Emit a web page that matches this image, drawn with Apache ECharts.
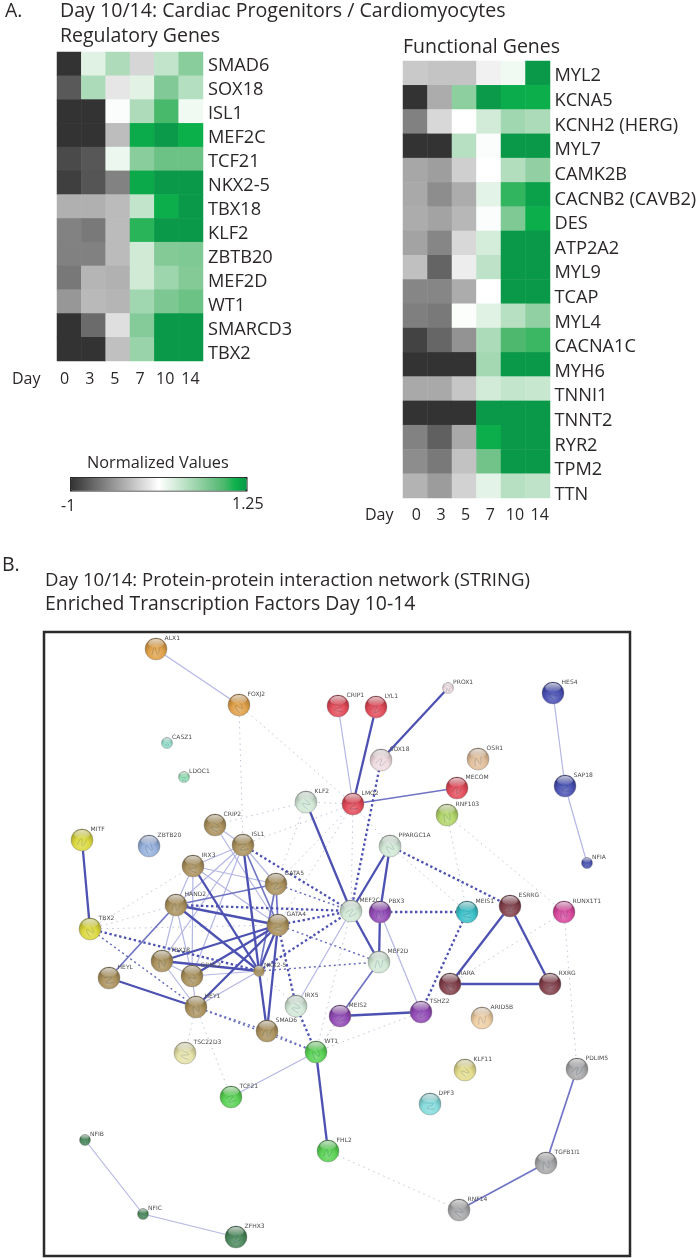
<!DOCTYPE html>
<html lang="en" style="height: 100%">
<head>
    <meta charset="utf-8">
    <title>Day 10/14 Cardiac Progenitors / Cardiomyocytes</title>
    <script src="https://cdn.jsdelivr.net/npm/echarts@6/dist/echarts.min.js"></script>
</head>
<body style="height: 100%; margin: 0; background: #fff">
<div id="main" style="width: 697px; height: 1258px"></div>
<script type="text/javascript">
    // heatmap data
    const days = ['0', '3', '5', '7', '10', '14'];
    const regulatoryGenes = ['SMAD6', 'SOX18', 'ISL1', 'MEF2C', 'TCF21', 'NKX2-5', 'TBX18', 'KLF2', 'ZBTB20', 'MEF2D', 'WT1', 'SMARCD3', 'TBX2'];
    const regulatoryValues = [
        [-1, 0.28, 0.52, -0.1, 0.43, 0.69],
        [-0.79, 0.53, -0.01, 0.27, 0.73, 0.49],
        [-1, -1, 0.15, 0.52, 0.97, 0.2],
        [-1, -1, -0.24, 1.14, 1.24, 1.11],
        [-0.87, -0.8, 0.22, 0.69, 0.83, 0.83],
        [-0.93, -0.81, -0.56, 1.15, 1.25, 1.25],
        [-0.31, -0.31, -0.25, 0.43, 1.12, 1.25],
        [-0.56, -0.61, -0.25, 1.04, 1.25, 1.25],
        [-0.57, -0.57, -0.25, 0.36, 0.72, 0.74],
        [-0.62, -0.28, -0.3, 0.36, 0.6, 0.72],
        [-0.45, -0.26, -0.28, 0.58, 0.75, 0.83],
        [-1, -0.69, -0.05, 0.71, 1.25, 1.25],
        [-1, -1, -0.22, 0.62, 1.25, 1.25]
    ];
    const functionalGenes = ['MYL2', 'KCNA5', 'KCNH2 (HERG)', 'MYL7', 'CAMK2B', 'CACNB2 (CAVB2)', 'DES', 'ATP2A2', 'MYL9', 'TCAP', 'MYL4', 'CACNA1C', 'MYH6', 'TNNI1', 'TNNT2', 'RYR2', 'TPM2', 'TTN'];
    const functionalValues = [
        [-0.17, -0.2, -0.2, 0.05, 0.2, 1.25],
        [-1, -0.33, 0.67, 1.24, 1.13, 1.12],
        [-0.57, -0.09, 0.13, 0.35, 0.58, 0.53],
        [-1, -1, 0.48, 0.15, 1.25, 1.25],
        [-0.36, -0.41, -0.14, 0.13, 0.5, 0.65],
        [-0.35, -0.5, -0.33, 0.26, 1.02, 1.2],
        [-0.33, -0.38, -0.27, 0.15, 0.74, 1.12],
        [-0.38, -0.54, -0.09, 0.34, 1.25, 1.25],
        [-0.22, -0.73, 0.03, 0.45, 1.25, 1.25],
        [-0.54, -0.54, -0.33, 0.13, 1.25, 1.25],
        [-0.58, -0.61, 0.14, 0.28, 0.48, 0.66],
        [-0.91, -0.72, -0.47, 0.53, 0.95, 1.0],
        [-1, -1, -1, 0.57, 1.25, 1.25],
        [-0.35, -0.35, -0.19, 0.35, 0.42, 0.4],
        [-1, -1, -1, 1.25, 1.25, 1.25],
        [-0.56, -0.75, -0.35, 1.12, 1.25, 1.25],
        [-0.5, -0.61, -0.21, 0.8, 1.25, 1.25],
        [-0.29, -0.42, -0.12, 0.26, 0.48, 0.44]
    ];

    // network layout in the STRING picture's own units
    const nodeNames = ['ALX1', 'FOXJ2', 'CRIP1', 'LYL1', 'PROX1', 'CASZ1', 'LDOC1', 'SOX18', 'OSR1', 'KLF2', 'LMO2', 'MECOM', 'RNF103', 'CRIP2', 'ISL1', 'MITF', 'ZBTB20', 'IRX3', 'GATA5', 'HAND2', 'TBX2', 'GATA4', 'MEF2C', 'PBX3', 'PPARGC1A', 'MEIS1', 'ESRRG', 'RUNX1T1', 'HES4', 'SAP18', 'NFIA', 'TBX18', 'GRHL2', 'HEYL', 'NKX2-5', 'HEY1', 'IRX5', 'MEIS2', 'SMAD6', 'WT1', 'TSC22D3', 'TCF21', 'FHL2', 'NFIB', 'NFIC', 'ZFHX3', 'MEF2D', 'RARA', 'RXRG', 'TSHZ2', 'ARID5B', 'KLF11', 'DPF3', 'PDLIM5', 'TGFB1I1', 'RNF14'];
    const nodeX = [112, 195, 294, 332, 404, 123, 140, 337, 434, 262, 309, 413, 403, 171, 199, 38, 105, 149, 232, 132, 46, 234, 307, 336, 346, 423, 466, 520, 509, 521, 543, 118, 148, 65, 215, 152, 252, 296, 223, 272, 141, 187, 284, 41, 99, 192, 335, 406, 506, 377, 438, 421, 386, 533, 502, 415];
    const nodeY = [17, 73, 74, 75, 56, 111, 145, 128, 127, 170, 172, 156, 183, 193, 213, 208, 214, 234, 252, 273, 297, 293, 279, 280, 214, 280, 274, 280, 61, 154, 231, 329, 344, 346, 339, 375, 374, 384, 399, 420, 421, 465, 519, 508, 582, 605, 330, 352, 352, 380, 386, 438, 472, 437, 531, 578];
    const nodeClusters = ['orange', 'orange', 'red', 'red', 'blush', 'mint', 'seafoam', 'blush', 'tan', 'pale', 'red', 'red', 'lime', 'brown', 'brown', 'yellow', 'sky', 'brown', 'brown', 'brown', 'yellow', 'brown', 'pale', 'purple', 'pale', 'teal', 'maroon', 'magenta', 'navy', 'navy', 'navy', 'brown', 'brown', 'brown', 'brown', 'brown', 'pale', 'purple', 'brown', 'green', 'cream', 'green', 'green', 'forest', 'forest', 'forest', 'pale', 'maroon', 'maroon', 'purple', 'peach', 'straw', 'aqua', 'grey', 'grey', 'grey'];
    const smallNodes = ['PROX1', 'CASZ1', 'LDOC1', 'NFIA', 'NKX2-5', 'NFIB', 'NFIC'];

    // edges by evidence class
    const strongEdges = [['MITF', 'TBX2'], ['LYL1', 'LMO2'], ['PROX1', 'SOX18'], ['KLF2', 'MEF2C'], ['PPARGC1A', 'MEF2C'], ['PPARGC1A', 'PBX3'], ['MEF2C', 'MEF2D'], ['PBX3', 'MEF2D'], ['MEIS2', 'TSHZ2'], ['ESRRG', 'RARA'], ['ESRRG', 'RXRG'], ['RARA', 'RXRG'], ['HEYL', 'HEY1'], ['WT1', 'FHL2'], ['HAND2', 'GATA4'], ['HAND2', 'NKX2-5'], ['IRX3', 'NKX2-5'], ['ISL1', 'NKX2-5'], ['GATA4', 'NKX2-5'], ['GATA4', 'TBX18'], ['GATA4', 'GRHL2'], ['GATA4', 'HEY1'], ['NKX2-5', 'SMAD6'], ['GATA4', 'SMAD6'], ['TBX18', 'NKX2-5']];
    const mediumEdges = [['LMO2', 'MECOM'], ['HAND2', 'HEYL'], ['TGFB1I1', 'RNF14'], ['TGFB1I1', 'PDLIM5'], ['MEF2D', 'MEIS2'], ['HAND2', 'GATA5'], ['GATA5', 'GATA4'], ['ISL1', 'GATA4'], ['GATA5', 'NKX2-5']];
    const thinEdges = [['ALX1', 'FOXJ2'], ['CRIP1', 'LMO2'], ['HES4', 'SAP18'], ['SAP18', 'NFIA'], ['NFIB', 'NFIC'], ['NFIC', 'ZFHX3'], ['WT1', 'TCF21'], ['PBX3', 'TSHZ2'], ['MEF2C', 'IRX5'], ['CRIP2', 'ISL1'], ['CRIP2', 'GATA4'], ['ISL1', 'IRX3'], ['ISL1', 'HAND2'], ['ISL1', 'TBX18'], ['ISL1', 'GRHL2'], ['ISL1', 'GATA5'], ['IRX3', 'GRHL2'], ['IRX3', 'GATA5'], ['IRX3', 'GATA4'], ['IRX3', 'HAND2'], ['HAND2', 'TBX18'], ['HAND2', 'GRHL2'], ['TBX18', 'GRHL2'], ['GRHL2', 'NKX2-5'], ['HEY1', 'NKX2-5'], ['GRHL2', 'HEY1'], ['TBX18', 'HEY1']];
    const dashedEdges = [['SOX18', 'MEF2C'], ['PPARGC1A', 'ESRRG'], ['PBX3', 'MEIS1'], ['MEIS1', 'TSHZ2'], ['ISL1', 'MEF2C'], ['HAND2', 'MEF2C'], ['GATA4', 'MEF2C'], ['NKX2-5', 'MEF2C'], ['TBX2', 'NKX2-5'], ['GATA4', 'IRX5'], ['IRX5', 'WT1']];
    const thinDashedEdges = [['GATA5', 'MEF2C'], ['NKX2-5', 'MEF2D'], ['TBX2', 'HEY1'], ['HEY1', 'SMAD6'], ['SMAD6', 'WT1'], ['GATA4', 'MEF2D'], ['HEY1', 'WT1']];
    const faintEdges = [['FOXJ2', 'LMO2'], ['FOXJ2', 'ISL1'], ['KLF2', 'CRIP2'], ['LMO2', 'ISL1'], ['LMO2', 'KLF2'], ['LMO2', 'GATA5'], ['LMO2', 'GATA4'], ['LMO2', 'MEF2C'], ['LMO2', 'PPARGC1A'], ['KLF2', 'GATA5'], ['PPARGC1A', 'MEIS1'], ['RNF103', 'MEIS1'], ['RNF103', 'RUNX1T1'], ['RUNX1T1', 'RARA'], ['RUNX1T1', 'PDLIM5'], ['TBX2', 'IRX3'], ['TBX2', 'HAND2'], ['TBX2', 'GATA4'], ['HEY1', 'TCF21'], ['FHL2', 'RNF14'], ['MEF2D', 'WT1'], ['MEIS2', 'WT1'], ['TSHZ2', 'WT1'], ['MEF2C', 'WT1'], ['NKX2-5', 'IRX5'], ['HEY1', 'TSC22D3']];

    // ---- styles ----
    const textColor = '#2b2728';
    const textFont = '"Open Sans"';
    const heatRamp = ['#333333', '#4c4c4c', '#666666', '#7f7f7f', '#999999', '#b2b2b2', '#cccccc', '#e5e5e5', '#ffffff',
        '#e3f3e7', '#c6e6ce', '#a8dab6', '#8acd9d', '#6cc185', '#49b86a', '#0bb04b', '#0a9849'];
    const clusterColors = {
        orange: '#dd9a3c', red: '#df3f4e', blush: '#eed9dd', mint: '#8fdcc6', seafoam: '#8edcb0', tan: '#dfba94',
        pale: '#cfe6d3', lime: '#aed25f', brown: '#a58a52', yellow: '#d9d632', sky: '#8fabd9', purple: '#8b3fb0',
        teal: '#2dbcc4', maroon: '#7a3540', magenta: '#d53c97', navy: '#3f46ad', green: '#4fce4a', cream: '#e4e0a4',
        forest: '#3f8050', peach: '#ecca9c', straw: '#e2da84', aqua: '#7fd9da', grey: '#a2a2a4'
    };
    const squiggle = 'path://M2,9 C4,2 6,2 7,6 C8,10 10,10 12,3';

    function mix(hex, other, t) {
        const a = parseInt(hex.slice(1), 16);
        const b = parseInt(other.slice(1), 16);
        const ch = function (s) {
            return Math.round(((a >> s) & 255) * (1 - t) + ((b >> s) & 255) * t);
        };
        return 'rgb(' + ch(16) + ',' + ch(8) + ',' + ch(0) + ')';
    }

    // glossy ball: lit from below, dark rim on top, like the STRING nodes
    function sphere(hex) {
        return {
            type: 'radial', x: 0.5, y: 0.72, r: 0.76,
            colorStops: [
                {offset: 0, color: mix(hex, '#ffffff', 0.3)},
                {offset: 0.42, color: mix(hex, '#ffffff', 0.08)},
                {offset: 0.78, color: mix(hex, '#000000', 0.22)},
                {offset: 1, color: mix(hex, '#000000', 0.58)}
            ]
        };
    }

    function heatCells(rows) {
        const out = [];
        rows.forEach(function (row, y) {
            row.forEach(function (v, x) {
                out.push([x, y, v]);
            });
        });
        return out;
    }

    function edgeLinks(pairs, width, color, dash) {
        return pairs.map(function (p) {
            return {source: p[0], target: p[1], lineStyle: {width: width, color: color, type: dash || 'solid', opacity: 1, curveness: 0}};
        });
    }

    function titleText(text, left, top, size) {
        return {text: text, left: left, top: top, padding: 0, textStyle: {color: textColor, fontFamily: textFont, fontWeight: 'normal', fontSize: size}};
    }

    function labelAxisX(gridIndex, margin) {
        return {gridIndex: gridIndex, type: 'category', data: days, axisLine: {show: false}, axisTick: {show: false}, axisLabel: {margin: margin, color: textColor, fontFamily: textFont, fontSize: 16, interval: 0}};
    }

    function labelAxisY(gridIndex, genes, margin) {
        return {gridIndex: gridIndex, type: 'category', data: genes, inverse: true, position: 'right', axisLine: {show: false}, axisTick: {show: false}, axisLabel: {margin: margin, color: textColor, fontFamily: textFont, fontSize: 18.2, interval: 0}};
    }

    function bareAxis(gridIndex, labels, inverse) {
        return {gridIndex: gridIndex, type: 'category', data: labels, inverse: inverse, show: false};
    }

    function nodeDiameter(name) {
        return smallNodes.indexOf(name) >= 0 ? 11 : 22;
    }

    const graphNodes = nodeNames.map(function (name, i) {
        const small = nodeDiameter(name) === 11;
        return {
            name: name,
            value: [nodeX[i], nodeY[i]],
            symbolSize: nodeDiameter(name),
            itemStyle: {color: sphere(clusterColors[nodeClusters[i]]), borderColor: 'rgba(130,130,130,0.5)', borderWidth: 0.8},
            label: {position: small ? [11, -3] : [20, -2]}
        };
    });

    const highlights = nodeNames.map(function (name, i) {
        const d = nodeDiameter(name);
        return {value: [nodeX[i], nodeY[i]], symbolSize: [d * 0.72, d * 0.4], symbolOffset: [0, -d * 0.25]};
    });

    // the small ribbon drawn inside each ball, kept faint
    const ribbons = nodeNames.map(function (name, i) {
        return {
            value: [nodeX[i], nodeY[i] + 2],
            symbolSize: nodeDiameter(name) * 0.36,
            symbolRotate: (i * 47) % 360,
            itemStyle: {color: 'rgba(0,0,0,0)', borderColor: mix(clusterColors[nodeClusters[i]], '#24506a', 0.45), borderWidth: 0.7, opacity: 0.6}
        };
    });

    const links = [].concat(
        edgeLinks(faintEdges, 1, '#c2c4da', [1.5, 4]),
        edgeLinks(thinEdges, 1.2, '#b4b6e4'),
        edgeLinks(thinDashedEdges, 1.5, '#6a6fbe', [2, 3]),
        edgeLinks(mediumEdges, 1.7, '#6f74c4'),
        edgeLinks(dashedEdges, 2.3, '#4d52b2', [2.4, 2.6]),
        edgeLinks(strongEdges, 2.3, '#4d52b2')
    );

    const myChart = echarts.init(document.getElementById('main'), null, {renderer: 'canvas'});

    const option = {
        animation: false,
        backgroundColor: '#ffffff',
        title: [
            titleText('A.', 5, 1, 19.5),
            titleText('Day 10/14: Cardiac Progenitors / Cardiomyocytes', 60, 1, 19.6),
            titleText('Regulatory Genes', 60, 26, 19.5),
            titleText('Functional Genes', 403, 37, 19.5),
            titleText('Day', 12, 371, 16),
            titleText('Day', 365, 507, 16),
            titleText('Normalized Values', 87, 455, 16.3),
            titleText('-1', 61, 498, 16),
            titleText('1.25', 232, 496, 16),
            titleText('B.', 2, 555, 19.5),
            titleText('Day 10/14: Protein-protein interaction network (STRING)', 45, 571, 18.6),
            titleText('Enriched Transcription Factors Day 10-14', 45, 595, 19.4)
        ],
        grid: [
            {left: 57, top: 52, width: 146, height: 309, outerBoundsMode: 'none'},
            {left: 403, top: 61, width: 147, height: 437, outerBoundsMode: 'none'},
            {left: 44, top: 632, width: 586, height: 624, show: true, borderColor: '#2b2b2b', borderWidth: 2.5, backgroundColor: '#ffffff', outerBoundsMode: 'none'},
            // the labels are set a little off the cells in the figure, so they get their own grids
            {left: 52, top: 54, width: 151, height: 312, outerBoundsMode: 'none'},
            {left: 404, top: 64, width: 148, height: 443, outerBoundsMode: 'none'}
        ],
        xAxis: [
            bareAxis(0, days),
            bareAxis(1, days),
            {gridIndex: 2, type: 'value', min: 0, max: 586, show: false},
            labelAxisX(3, 5),
            labelAxisX(4, 0)
        ],
        yAxis: [
            bareAxis(0, regulatoryGenes, true),
            bareAxis(1, functionalGenes, true),
            {gridIndex: 2, type: 'value', min: 0, max: 624, inverse: true, show: false},
            labelAxisY(3, regulatoryGenes, 5),
            labelAxisY(4, functionalGenes, 2.5)
        ],
        visualMap: {
            type: 'continuous',
            seriesIndex: [0, 1],
            dimension: 2,
            min: -1,
            max: 1.25,
            orient: 'horizontal',
            left: 70,
            top: 477,
            itemWidth: 13,
            itemHeight: 176,
            padding: 0,
            borderColor: '#222222',
            borderWidth: 1.5,
            text: ['', ''],
            showLabel: false,
            calculable: false,
            hoverLink: false,
            inRange: {color: heatRamp}
        },
        series: [
            {type: 'heatmap', xAxisIndex: 0, yAxisIndex: 0, data: heatCells(regulatoryValues), emphasis: {disabled: true}},
            {type: 'heatmap', xAxisIndex: 1, yAxisIndex: 1, data: heatCells(functionalValues), emphasis: {disabled: true}},
            {
                type: 'graph',
                coordinateSystem: 'cartesian2d',
                xAxisIndex: 2,
                yAxisIndex: 2,
                data: graphNodes,
                links: links,
                silent: true,
                label: {show: true, color: '#4a4a4a', fontFamily: 'DejaVu Sans', fontSize: 6, formatter: '{b}'},
                z: 3
            },
            {
                type: 'scatter',
                xAxisIndex: 2,
                yAxisIndex: 2,
                symbol: squiggle,
                data: ribbons,
                silent: true,
                z: 4
            },
            {
                type: 'scatter',
                xAxisIndex: 2,
                yAxisIndex: 2,
                data: highlights,
                silent: true,
                itemStyle: {
                    color: {
                        type: 'linear', x: 0, y: 0, x2: 0, y2: 1,
                        colorStops: [{offset: 0, color: 'rgba(255,255,255,0.9)'}, {offset: 1, color: 'rgba(255,255,255,0.08)'}]
                    }
                },
                z: 5
            }
        ]
    };

    myChart.setOption(option);
    window.addEventListener('resize', myChart.resize);
</script>
</body>
</html>
